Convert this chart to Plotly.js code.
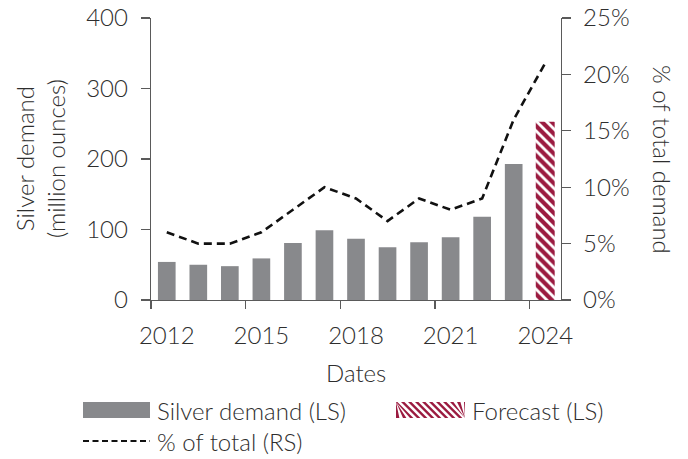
<!DOCTYPE html>
<html>
<head>
<meta charset="utf-8">
<script src="https://cdn.plot.ly/plotly-3.0.1.min.js"></script>
<style>html,body{margin:0;padding:0;background:#fff;}#chart{width:688px;height:459px;}</style>
</head>
<body>
<div id="chart"></div>
<script>
// ---- data ----
const years = [2012, 2013, 2014, 2015, 2016, 2017, 2018, 2019, 2020, 2021, 2022, 2023, 2024];
const silverDemand = [54, 50, 48, 59, 81, 99, 87, 75, 82, 89, 118, 193, null];
const forecast = [null, null, null, null, null, null, null, null, null, null, null, null, 253];
const pctOfTotal = [6, 5, 5, 6, 8, 10, 9, 7, 9, 8, 9, 16, 21];
const xTickLabels = ['2012', '2015', '2018', '2021', '2024'];
const xTickVals = [2012, 2015, 2018, 2021, 2024];

const FONT = 'Lato, "Open Sans", sans-serif';
const TXT = '#2e2e2e';
const AX = '#5a5a5a';
const GRAY = '#88898c';
const RED = '#9b1b40';
const W = 300;

const traces = [
  { type: 'bar', x: years, y: silverDemand, name: 'Silver demand (LS)', width: 0.56,
    marker: { color: GRAY }, hoverinfo: 'skip' },
  { type: 'bar', x: years, y: forecast, name: 'Forecast (LS)', width: 0.6,
    marker: { color: 'white', pattern: { shape: '\\', fgcolor: RED, bgcolor: 'white', size: 7, solidity: 0.6, fillmode: 'replace' } },
    hoverinfo: 'skip' },
  { type: 'scatter', mode: 'lines', x: years, y: pctOfTotal, name: '% of total (RS)', yaxis: 'y2',
    line: { color: '#111', width: 2.6, dash: '8px,5px' }, hoverinfo: 'skip' }
];

const layout = {
  width: 688, height: 459,
  margin: { l: 151, r: 126.5, t: 17.7, b: 158.7 },
  paper_bgcolor: 'white', plot_bgcolor: 'white',
  showlegend: false,
  barmode: 'overlay',
  font: { family: FONT, size: 24, color: TXT, weight: W },
  xaxis: {
    type: 'linear', range: [2011.5, 2024.5], fixedrange: true,
    tickmode: 'array', tickvals: xTickVals, ticktext: xTickLabels,
    ticks: '', showgrid: false, zeroline: false,
    showline: true, linecolor: AX, linewidth: 1.3,
    ticklabelstandoff: 14,
    tickfont: { family: FONT, size: 24, color: TXT, weight: W },
    minor: { tick0: 2011.5, dtick: 3, ticks: 'outside', ticklen: 8, tickwidth: 1.3, tickcolor: AX, showgrid: false }
  },
  yaxis: {
    range: [0, 400], dtick: 100, fixedrange: true,
    ticks: 'outside', ticklen: 9, tickwidth: 1.3, tickcolor: AX,
    showline: true, linecolor: AX, linewidth: 1.3,
    showgrid: false, zeroline: false,
    tickfont: { family: FONT, size: 24, color: TXT, weight: W },
    ticklabelstandoff: 8
  },
  yaxis2: {
    overlaying: 'y', side: 'right', range: [0, 25], dtick: 5, ticksuffix: '%', fixedrange: true,
    ticks: 'outside', ticklen: 9, tickwidth: 1.3, tickcolor: AX,
    showline: true, linecolor: AX, linewidth: 1.3,
    showgrid: false, zeroline: false,
    tickfont: { family: FONT, size: 24, color: TXT, weight: W },
    ticklabelstandoff: 7
  },
  shapes: [
    { type: 'rect', xref: 'paper', yref: 'paper', xsizemode: 'pixel', ysizemode: 'pixel',
      xanchor: 0, yanchor: 0, x0: -68, x1: -1, y0: -102, y1: -118,
      fillcolor: GRAY, line: { width: 0 } },
    { type: 'line', xref: 'paper', yref: 'paper', xsizemode: 'pixel', ysizemode: 'pixel',
      xanchor: 0, yanchor: 0, x0: -68, x1: -1, y0: -141, y1: -141,
      line: { color: '#111', width: 2, dash: '6px,3.5px' } }
  ],
  annotations: [
    { text: 'Silver demand<br>(million ounces)', xref: 'paper', yref: 'paper', x: 0, y: 0.5,
      xshift: -111, textangle: -90, showarrow: false, xanchor: 'center', yanchor: 'middle',
      font: { family: FONT, size: 24, color: TXT, weight: W } },
    { text: '% of total demand', xref: 'paper', yref: 'paper', x: 1, y: 0.5,
      xshift: 102, textangle: 90, showarrow: false, xanchor: 'center', yanchor: 'middle',
      font: { family: FONT, size: 24, color: TXT, weight: W } },
    { text: 'Dates', xref: 'paper', yref: 'paper', x: 0.5, y: 0, yshift: -72,
      showarrow: false, xanchor: 'center', yanchor: 'middle',
      font: { family: FONT, size: 24, color: TXT, weight: W } },
    { text: 'Silver demand (LS)', xref: 'paper', yref: 'paper', x: 0, y: 0, xshift: 4, yshift: -110,
      showarrow: false, xanchor: 'left', yanchor: 'middle',
      font: { family: FONT, size: 24, color: TXT, weight: W } },
    { text: 'Forecast (LS)', xref: 'paper', yref: 'paper', x: 0, y: 0, xshift: 319, yshift: -110,
      showarrow: false, xanchor: 'left', yanchor: 'middle',
      font: { family: FONT, size: 24, color: TXT, weight: W } },
    { text: '% of total (RS)', xref: 'paper', yref: 'paper', x: 0, y: 0, xshift: 4, yshift: -141,
      showarrow: false, xanchor: 'left', yanchor: 'middle',
      font: { family: FONT, size: 24, color: TXT, weight: W } }
  ]
};

// hatched legend swatch built from diagonal stripes
(function () {
  const x0 = 245, x1 = 314, yTop = -102, yBot = -118, step = 7, sw = 3.4;
  const h = yTop - yBot;
  let d = '';
  for (let s = x0 - h; s < x1; s += step) {
    const pts = [[s, yTop], [s + sw, yTop], [s + sw + h, yBot], [s + h, yBot]];
    const clip = pts.map(p => [Math.min(Math.max(p[0], x0), x1), p[1]]);
    d += 'M' + clip.map(p => p[0] + ',' + p[1]).join('L') + 'Z ';
  }
  layout.shapes.push({ type: 'path', xref: 'paper', yref: 'paper', xsizemode: 'pixel', ysizemode: 'pixel',
    xanchor: 0, yanchor: 0, path: d, fillcolor: RED, line: { width: 0 } });
})();

Plotly.newPlot('chart', traces, layout, { staticPlot: true, displayModeBar: false });
</script>
</body>
</html>
